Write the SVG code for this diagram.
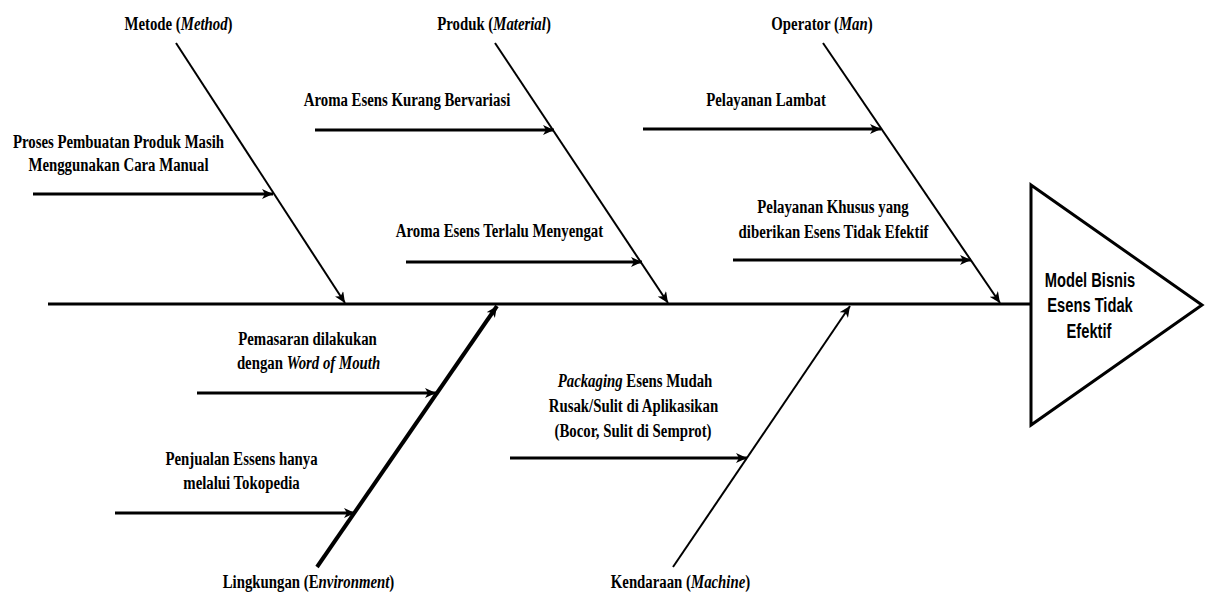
<svg xmlns="http://www.w3.org/2000/svg" width="1208" height="603" viewBox="0 0 1208 603">
<style>
.t{font-family:"Liberation Serif","Times New Roman",serif;font-weight:bold;font-size:19px;fill:#000;text-anchor:middle}
.s{font-family:"Liberation Sans",Arial,sans-serif;font-weight:bold;font-size:21px;fill:#000;text-anchor:middle}
.i{font-style:italic}
.ln{stroke:#000;fill:none}
</style>
<defs>
<marker id="ah" markerUnits="userSpaceOnUse" markerWidth="12" markerHeight="10" refX="11" refY="5" orient="auto">
<path d="M0,0 L11,5 L0,10 L3,5 Z" fill="#000"/>
</marker>
</defs>
<rect width="1208" height="603" fill="#fff"/>
<g id="connectors">
<line class="ln" x1="48" y1="304" x2="1030" y2="304" stroke-width="3"/>
<line class="ln" x1="176" y1="43" x2="345" y2="303" stroke-width="2" marker-end="url(#ah)"/>
<line class="ln" x1="495" y1="43" x2="668" y2="303" stroke-width="2" marker-end="url(#ah)"/>
<line class="ln" x1="823" y1="43" x2="1000" y2="303" stroke-width="2" marker-end="url(#ah)"/>
<line class="ln" x1="317" y1="567" x2="497" y2="306" stroke-width="4" marker-end="url(#ah)"/>
<line class="ln" x1="673" y1="567" x2="850" y2="306" stroke-width="2" marker-end="url(#ah)"/>
<line class="ln" x1="33" y1="194" x2="273" y2="194" stroke-width="3" marker-end="url(#ah)"/>
<line class="ln" x1="315" y1="130" x2="554" y2="130" stroke-width="3" marker-end="url(#ah)"/>
<line class="ln" x1="406" y1="262" x2="642" y2="262" stroke-width="3" marker-end="url(#ah)"/>
<line class="ln" x1="643" y1="129" x2="881" y2="129" stroke-width="3" marker-end="url(#ah)"/>
<line class="ln" x1="733" y1="260" x2="971" y2="260" stroke-width="3" marker-end="url(#ah)"/>
<line class="ln" x1="197" y1="393" x2="436" y2="393" stroke-width="3" marker-end="url(#ah)"/>
<line class="ln" x1="115" y1="513" x2="355" y2="513" stroke-width="3" marker-end="url(#ah)"/>
<line class="ln" x1="510" y1="458" x2="747" y2="458" stroke-width="3" marker-end="url(#ah)"/>
</g>
<g id="head">
<polygon points="1031,185 1202,305 1031,425" fill="#fff" stroke="#000" stroke-width="3"/>
<text class="s" transform="translate(1090,287) scale(0.7,1)">Model Bisnis</text>
<text class="s" transform="translate(1090,312) scale(0.7,1)">Esens Tidak</text>
<text class="s" transform="translate(1089,338) scale(0.7,1)">Efektif</text>
</g>
<g id="cat-method">
<text class="t" transform="translate(178.5,30) scale(0.78,1)">Metode (<tspan class="i">Method</tspan>)</text>
</g>
<g id="cat-material">
<text class="t" transform="translate(494,30) scale(0.78,1)">Produk (<tspan class="i">Material</tspan>)</text>
</g>
<g id="cat-man">
<text class="t" transform="translate(822,30) scale(0.78,1)">Operator (<tspan class="i">Man</tspan>)</text>
</g>
<g id="cat-environment">
<text class="t" transform="translate(308.5,588) scale(0.78,1)">Lingkungan (E<tspan class="i">nvironment</tspan>)</text>
</g>
<g id="cat-machine">
<text class="t" transform="translate(680.5,588) scale(0.78,1)">Kendaraan (<tspan class="i">Machine</tspan>)</text>
</g>
<g id="cause-manual">
<text class="t" transform="translate(118.5,148) scale(0.78,1)">Proses Pembuatan Produk Masih</text>
<text class="t" transform="translate(118.5,171) scale(0.78,1)">Menggunakan Cara Manual</text>
</g>
<g id="cause-variasi">
<text class="t" transform="translate(407,106) scale(0.78,1)">Aroma Esens Kurang Bervariasi</text>
</g>
<g id="cause-menyengat">
<text class="t" transform="translate(499.5,237) scale(0.78,1)">Aroma Esens Terlalu Menyengat</text>
</g>
<g id="cause-lambat">
<text class="t" transform="translate(766,106) scale(0.78,1)">Pelayanan Lambat</text>
</g>
<g id="cause-khusus">
<text class="t" transform="translate(833,213) scale(0.78,1)">Pelayanan Khusus yang</text>
<text class="t" transform="translate(833.5,238) scale(0.78,1)">diberikan Esens Tidak Efektif</text>
</g>
<g id="cause-wom">
<text class="t" transform="translate(307.5,345) scale(0.78,1)">Pemasaran dilakukan</text>
<text class="t" transform="translate(308.5,369) scale(0.78,1)">dengan <tspan class="i">Word of Mouth</tspan></text>
</g>
<g id="cause-tokopedia">
<text class="t" transform="translate(241.5,465) scale(0.78,1)">Penjualan Essens hanya</text>
<text class="t" transform="translate(241.5,489) scale(0.78,1)">melalui Tokopedia</text>
</g>
<g id="cause-packaging">
<text class="t" transform="translate(635,387) scale(0.78,1)"><tspan class="i">Packaging</tspan> Esens Mudah</text>
<text class="t" transform="translate(633.5,412) scale(0.78,1)">Rusak/Sulit di Aplikasikan</text>
<text class="t" transform="translate(633,437) scale(0.78,1)">(Bocor, Sulit di Semprot)</text>
</g>
</svg>
